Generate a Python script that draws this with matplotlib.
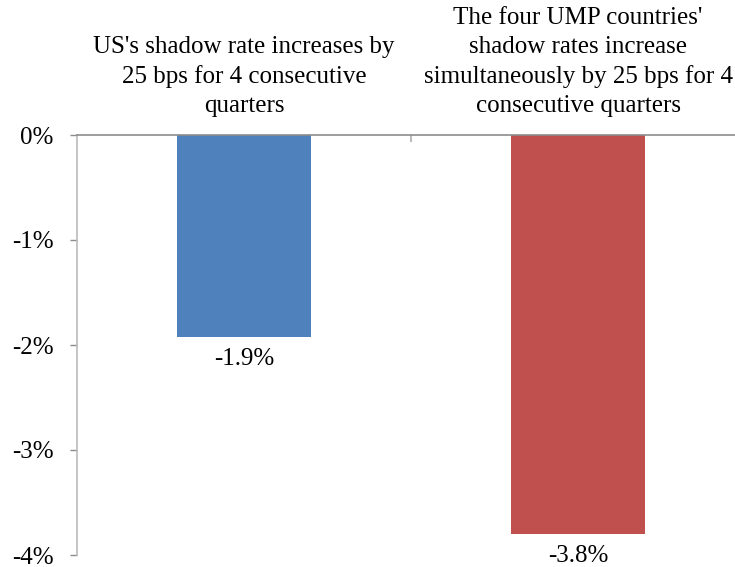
import matplotlib.pyplot as plt

# data
categories = [
    "US's shadow rate increases by\n25 bps for 4 consecutive\nquarters",
    "The four UMP countries'\nshadow rates increase\nsimultaneously by 25 bps for 4\nconsecutive quarters",
]
values = [-1.92, -3.80]
value_labels = ["-1.9%", "-3.8%"]
colors = ["#4F81BD", "#C0504D"]
yticks = [0, -1, -2, -3, -4]
ytick_labels = ["0%", "-1%", "-2%", "-3%", "-4%"]

plt.rcParams['font.family'] = ['Liberation Serif', 'DejaVu Serif']
grey = "#8C8C8C"

fig = plt.figure(figsize=(7.35, 5.67), dpi=100)
W, H = 735, 567
ax = fig.add_axes([77 / W, 12 / H, 668 / W, 420 / H])

x = range(len(values))
ax.bar(x, values, width=0.4, color=colors)
ax.set_xlim(-0.5, 1.5)
ax.set_ylim(-4, 0)

for xi, v, lab in zip(x, values, value_labels):
    ax.annotate(lab, (xi, v), xytext=(0, -8), textcoords='offset points',
                ha='center', va='top', fontsize=18)

for xi, cat in zip(x, categories):
    ax.annotate(cat, (xi, 0), xytext=(0, 13), textcoords='offset points',
                ha='center', va='bottom', fontsize=18, linespacing=1.4,
                annotation_clip=False)

ax.set_yticks(yticks)
ax.set_yticklabels(ytick_labels, fontsize=18)
ax.tick_params(axis='y', direction='out', length=5, width=1, color=grey, pad=12)
ax.set_xticks([])
ax.set_xticks([0.5], minor=True)
ax.tick_params(axis='x', which='minor', top=True, bottom=False, direction='in',
               length=5, width=1.5, color="#BBBBBB", labeltop=False, labelbottom=False)

for s in ['right', 'bottom']:
    ax.spines[s].set_visible(False)
ax.spines['left'].set_color("#BBBBBB")
ax.spines['left'].set_linewidth(1.2)
ax.spines['top'].set_color(grey)
ax.spines['top'].set_linewidth(1.2)

fig.savefig("out.png", dpi=100)
